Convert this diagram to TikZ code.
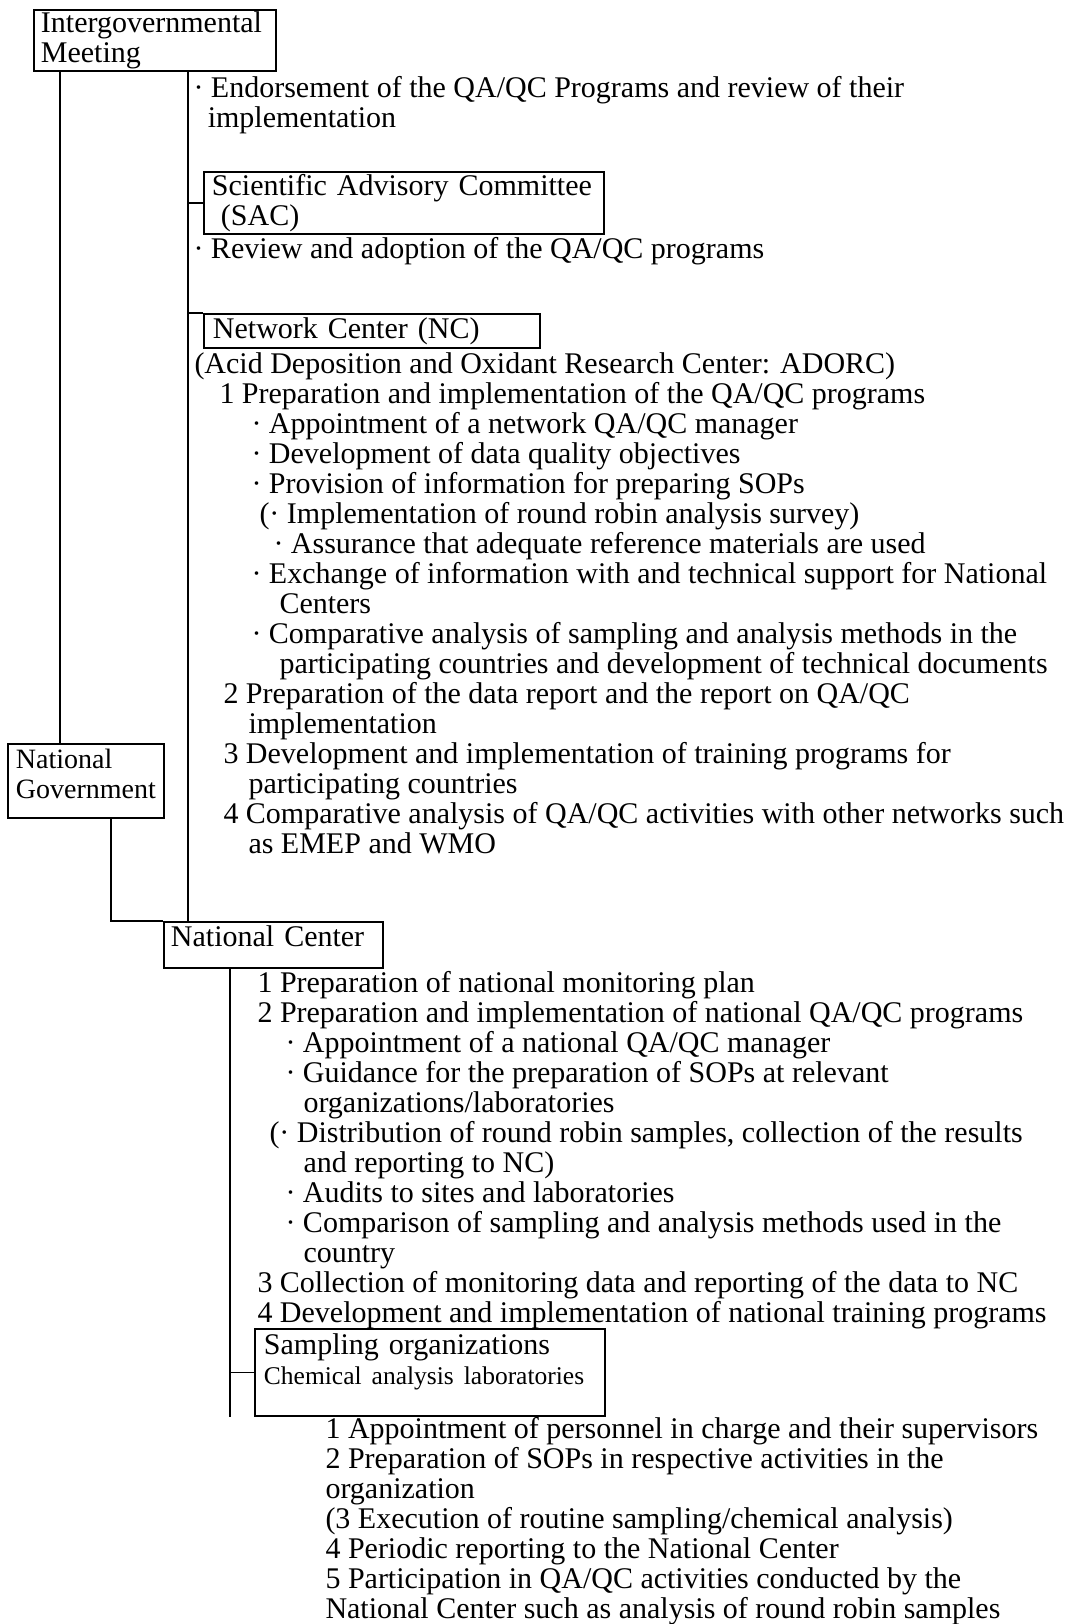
\documentclass[tikz,border=0pt]{standalone}
\usepackage{fontspec}
\setmainfont{Liberation Serif}
\usetikzlibrary{positioning}
\hyphenpenalty=10000
\newcommand{\padbelow}[1]{\rule[-#1]{0pt}{#1}}

\begin{document}
\begin{tikzpicture}[
    x=0.4pt, y=-0.4pt,
    box/.style={draw, line width=0.75pt, anchor=north west, align=left, inner ysep=0pt, font=\fontsize{12}{12}\selectfont},
    txt/.style={anchor=north west, align=left, inner sep=0pt, font=\fontsize{12}{12}\selectfont},
    link/.style={line width=0.75pt}
]
    \useasboundingbox (0,0) rectangle (1072,1624);

    % Organisation boxes
    \node[box, text width=91.2pt, inner xsep=2.8pt, minimum height=24.4pt] (igm) at (33,9) {Intergovernmental\\Meeting};
    \node[box, text width=153.6pt, inner xsep=3.2pt, minimum height=24.8pt] (sac) at (203,171) {Scientific Advisory Committee\\\hspace*{3.6pt}(SAC)};
    \node[box, text width=127.2pt, inner xsep=3.6pt, minimum height=13.6pt] (nc) at (203,313) {Network Center (NC)};
    \node[box, text width=56pt, inner xsep=3.2pt, minimum height=29.6pt, font=\fontsize{11.2}{12}\selectfont] (natgov) at (7,743) {National\\Government\padbelow{5.8pt}};
    \node[box, text width=82pt, inner xsep=2.8pt, minimum height=18.4pt] (natc) at (163,921) {National Center\padbelow{7.4pt}};
    \node[box, text width=132.8pt, inner xsep=3.6pt, minimum height=34.8pt] (samp) at (254,1328) {Sampling organizations\\{\fontsize{10.2}{12}\selectfont Chemical analysis laboratories}\padbelow{11pt}};

    % Tasks of each body
    \node[txt] (endorse) at (193,76) {· Endorsement of the QA/QC Programs and review of their\\
        \hspace*{5.7pt}implementation};
    \node[txt] (review) at (193,236.5) {· Review and adoption of the QA/QC programs};
    \node[txt] (ncwork) at (194,352.5) {(Acid Deposition and Oxidant Research Center: ADORC)\\
        \hspace*{10pt}1 Preparation and implementation of the QA/QC programs\\
        \hspace*{22.8pt}· Appointment of a network QA/QC manager\\
        \hspace*{22.8pt}· Development of data quality objectives\\
        \hspace*{22.8pt}· Provision of information for preparing SOPs\\
        \hspace*{26pt}(· Implementation of round robin analysis survey)\\
        \hspace*{31.6pt}· Assurance that adequate reference materials are used\\
        \hspace*{22.8pt}· Exchange of information with and technical support for National\\
        \hspace*{34pt}Centers\\
        \hspace*{22.8pt}· Comparative analysis of sampling and analysis methods in the\\
        \hspace*{34pt}participating countries and development of technical documents\\
        \hspace*{11.6pt}2 Preparation of the data report and the report on QA/QC\\
        \hspace*{21.6pt}implementation\\
        \hspace*{11.6pt}3 Development and implementation of training programs for\\
        \hspace*{21.6pt}participating countries\\
        \hspace*{11.6pt}4 Comparative analysis of QA/QC activities with other networks such\\
        \hspace*{21.6pt}as EMEP and WMO};
    \node[txt] (natcwork) at (257,970.5) {1 Preparation of national monitoring plan\\
        2 Preparation and implementation of national QA/QC programs\\
        \hspace*{11.2pt}· Appointment of a national QA/QC manager\\
        \hspace*{11.2pt}· Guidance for the preparation of SOPs at relevant\\
        \hspace*{18.4pt}organizations/laboratories\\
        \hspace*{4.8pt}(· Distribution of round robin samples, collection of the results\\
        \hspace*{18.4pt}and reporting to NC)\\
        \hspace*{11.2pt}· Audits to sites and laboratories\\
        \hspace*{11.2pt}· Comparison of sampling and analysis methods used in the\\
        \hspace*{18.4pt}country\\
        3 Collection of monitoring data and reporting of the data to NC\\
        4 Development and implementation of national training programs};
    \node[txt] (sampwork) at (325,1416.5) {1 Appointment of personnel in charge and their supervisors\\
        2 Preparation of SOPs in respective activities in the\\
        organization\\
        (3 Execution of routine sampling/chemical analysis)\\
        4 Periodic reporting to the National Center\\
        5 Participation in QA/QC activities conducted by the\\
        National Center such as analysis of round robin samples};

    % Connecting lines
    \coordinate (lx) at (60,0);
    \coordinate (sx) at (188,0);
    \coordinate (gx) at (111,0);
    \coordinate (nx) at (230,0);
    \draw[link] (igm.south -| lx) -- (natgov.north -| lx);
    \draw[link] (igm.south -| sx) -- (natc.north -| sx);
    \draw[link] (sac.west -| sx) -- (sac.west);
    \draw[link] (nc.north west -| sx) -- (nc.north west);
    \draw[link] (natgov.south -| gx) |- (natc.north west);
    \draw[link] (natc.south -| nx) -- (samp.south -| nx);
    \draw[link] (samp.west -| nx) -- (samp.west);
\end{tikzpicture}
\end{document}
